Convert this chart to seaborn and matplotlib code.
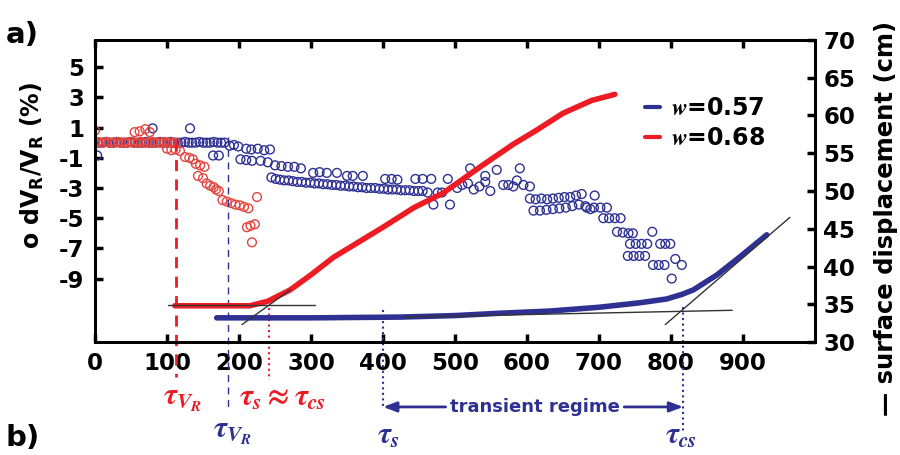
import matplotlib
matplotlib.use("Agg")
import matplotlib.pyplot as plt
from matplotlib.lines import Line2D
import seaborn as sns
import pandas as pd

# ---------------- data ----------------
# velocity change dV_R/V_R (%) versus time, w = 0.57
dvv_057_t = [0, 5, 10, 15, 20, 25, 30, 35, 40, 45, 50, 55, 60, 65, 70, 75, 80, 85, 90,
             95, 100, 105, 110, 115, 120, 125, 130, 135, 140, 145, 150, 155, 160, 165,
             170, 175, 180,
             3, 80, 132, 164, 172,
             187, 193, 199, 210, 217, 226, 235, 243,
             202, 210, 218, 230, 240, 250, 259, 268, 277, 286,
             245, 251, 257, 263, 269, 275, 281, 287, 293, 299, 305, 311, 317, 323, 329,
             335, 341, 347, 353, 359, 365, 371, 377, 383, 389, 395, 401, 407, 413, 419,
             425, 431, 437, 443, 449, 455,
             303, 312, 322, 336, 350, 358, 372, 403, 412, 420, 445, 455, 467, 490,
             470, 493, 482, 462, 476,
             503, 510, 518, 526, 534, 542, 549, 521, 542, 558, 590, 567, 574, 581, 595,
             604, 586,
             604, 612, 620, 628, 636, 644, 652, 660, 668, 676,
             609, 618, 627, 636, 645, 654, 663, 672, 681, 688,
             694, 683, 693, 702, 711, 706, 714, 722, 730, 725, 733, 741, 747, 774,
             743, 751, 759, 767, 785, 792, 799, 740, 748, 756, 764, 775, 783, 791,
             806, 815, 801]
dvv_057_v = [0.05, 0.0, 0.0, 0.05, 0.0, 0.0, 0.05, 0.0, 0.0, 0.0, 0.05, 0.0, 0.0, 0.0,
             0.05, 0.0, 0.0, 0.0, 0.05, 0.0, 0.0, 0.05, 0.0, 0.0, 0.0, 0.05, 0.0, 0.0,
             0.0, 0.05, 0.0, 0.0, 0.0, 0.05, 0.0, 0.0, 0.0,
             -0.85, 0.95, 0.95, -0.85, -0.85,
             -0.2, -0.15, -0.25, -0.4, -0.45, -0.4, -0.5, -0.45,
             -1.1, -1.15, -1.2, -1.2, -1.3, -1.5, -1.55, -1.6, -1.6, -1.7,
             -2.3, -2.4, -2.45, -2.5, -2.5, -2.55, -2.6, -2.6, -2.65, -2.65, -2.7, -2.7,
             -2.75, -2.75, -2.8, -2.8, -2.85, -2.85, -2.9, -2.9, -2.95, -2.95, -3.0,
             -3.0, -3.0, -3.05, -3.05, -3.1, -3.1, -3.1, -3.15, -3.15, -3.15, -3.2,
             -3.2, -3.2,
             -2.0, -1.95, -2.0, -2.0, -2.2, -2.2, -2.2, -2.4, -2.4, -2.45, -2.4, -2.4,
             -2.4, -2.4,
             -4.1, -4.1, -3.3, -3.3, -3.3,
             -3.0, -2.8, -2.7, -3.1, -2.9, -2.6, -3.2, -1.7, -2.2, -1.8, -1.7, -2.8,
             -2.8, -2.9, -2.8, -2.9, -2.5,
             -3.7, -3.75, -3.7, -3.75, -3.7, -3.65, -3.6, -3.6, -3.5, -3.4,
             -4.5, -4.5, -4.45, -4.4, -4.35, -4.3, -4.2, -4.1, -4.2, -4.4,
             -3.5, -4.3, -4.3, -4.3, -4.3, -5.0, -5.0, -5.0, -5.0, -5.9, -5.95, -6.0,
             -6.0, -5.9,
             -6.7, -6.7, -6.7, -6.7, -6.7, -6.7, -6.7, -7.5, -7.5, -7.5, -7.5, -8.1,
             -8.1, -8.1, -7.7, -8.1, -9.0]

# velocity change dV_R/V_R (%) versus time, w = 0.68
dvv_068_t = [0, 4, 8, 12, 16, 20, 24, 28, 32, 36, 40, 44, 48, 52, 56, 60, 64, 68, 72,
             76, 80, 84, 88, 92, 96, 100, 104, 108, 112,
             0, 55, 62, 70, 76,
             100, 106, 112, 118, 125, 131, 136, 140, 146, 152, 143, 150, 155, 160, 165,
             168, 172, 177, 183, 189, 195, 201, 207, 213,
             225, 211, 222, 218, 216]
dvv_068_v = [0.0, 0.05, 0.0, 0.0, 0.05, 0.0, 0.0, 0.0, 0.05, 0.0, 0.0, 0.0, 0.05, 0.0,
             0.0, 0.0, 0.05, 0.0, 0.0, 0.0, 0.05, 0.0, 0.0, 0.0, 0.05, 0.0, 0.0, 0.0,
             0.0,
             0.8, 0.7, 0.75, 0.9, 0.7,
             -0.4, -0.5, -0.45, -0.55, -0.95, -1.0, -1.1, -1.4, -1.5, -1.6, -2.2, -2.35,
             -2.7, -2.85, -2.95, -3.1, -3.2, -3.8, -3.9, -4.0, -4.1, -4.15, -4.25, -4.35,
             -3.6, -5.6, -5.4, -6.6, -5.5]

# surface displacement (cm) versus time
disp_057_t = [169, 300, 424, 500, 560, 632, 700, 757, 794, 815, 831, 864, 896, 933]
disp_057_d = [33.2, 33.2, 33.3, 33.5, 33.8, 34.1, 34.6, 35.2, 35.7, 36.3, 36.9, 38.9,
              41.3, 44.2]
disp_068_t = [111, 160, 215, 240, 271, 300, 331, 400, 443, 483, 535, 581, 614, 650, 690,
              722]
disp_068_d = [34.8, 34.8, 34.8, 35.4, 36.9, 38.9, 41.2, 45.2, 47.8, 49.7, 53.2, 56.2,
              58.1, 60.3, 62.0, 62.8]

# characteristic times
tau_vr_068, tau_s_068 = 112, 242
tau_vr_057, tau_s_057, tau_cs_057 = 185, 400, 817

x_ticks = [0, 100, 200, 300, 400, 500, 600, 700, 800, 900]
left_ticks = [5, 3, 1, -1, -3, -5, -7, -9]
right_ticks = [30, 35, 40, 45, 50, 55, 60, 65, 70]

NAVY = "#2e3192"
RED = "#ed1c24"
RED_PT = "#e2453f"

# ---------------- figure ----------------
sns.set_style("ticks")
plt.rcParams.update({
    "font.family": ["DejaVu Sans"],
    "font.weight": "bold",
    "text.color": "black",
    "axes.labelcolor": "black",
    "axes.edgecolor": "black",
    "xtick.color": "black",
    "ytick.color": "black",
    "xtick.labelsize": 16.5,
    "ytick.labelsize": 16.5,
})

fig = plt.figure(figsize=(9, 4.55), dpi=100)
ax = fig.add_axes([95 / 900, 1 - 342 / 455, 720 / 900, 302 / 455])

df057 = pd.DataFrame({"t": dvv_057_t, "v": dvv_057_v})
df068 = pd.DataFrame({"t": dvv_068_t, "v": dvv_068_v})
sns.scatterplot(data=df057, x="t", y="v", ax=ax, marker="o", s=40,
                facecolor="none", edgecolor=NAVY, linewidth=1.0, legend=False)
sns.scatterplot(data=df068, x="t", y="v", ax=ax, marker="o", s=40,
                facecolor="none", edgecolor=RED_PT, linewidth=1.0, legend=False)

ax2 = ax.twinx()
dd057 = pd.DataFrame({"t": disp_057_t, "d": disp_057_d})
dd068 = pd.DataFrame({"t": disp_068_t, "d": disp_068_d})
sns.lineplot(data=dd057, x="t", y="d", ax=ax2, color=NAVY, linewidth=4,
             sort=False, legend=False)
sns.lineplot(data=dd068, x="t", y="d", ax=ax2, color=RED, linewidth=4,
             sort=False, legend=False)

# tangent construction lines
tan_kw = dict(color="#333333", linewidth=1.0, zorder=5)
ax2.plot([101, 306], [34.9, 34.9], **tan_kw)
ax2.plot([204, 271], [32.3, 36.9], **tan_kw)
ax2.plot([430, 885], [33.3, 34.2], **tan_kw)
ax2.plot([792, 965], [32.3, 46.5], **tan_kw)

ax.set_xlim(0, 1000)
ax.set_ylim(-13.2, 6.8)
ax2.set_ylim(30, 70)
ax.set_xticks(x_ticks)
ax.set_xticklabels([str(t) for t in x_ticks])
ax.set_yticks(left_ticks)
ax.set_yticklabels([str(t) for t in left_ticks])
ax2.set_yticks(right_ticks)
ax2.set_yticklabels([str(t) for t in right_ticks])
ax.set_xlabel("")
ax.set_ylabel("")
ax2.set_xlabel("")
ax2.set_ylabel("")

# inward ticks on every side
ax.tick_params(axis="x", direction="in", top=True, length=6, width=2.5,
               color="black", pad=7)
ax.tick_params(axis="y", direction="in", length=6, width=2.5, color="black", pad=8)
ax2.tick_params(axis="y", direction="in", length=6, width=2.5, color="black", pad=6)
for lab in ax.get_xticklabels() + ax.get_yticklabels() + ax2.get_yticklabels():
    lab.set_fontweight("bold")
for a in (ax, ax2):
    for sp in a.spines.values():
        sp.set_linewidth(2)
        sp.set_color("black")

# vertical markers of the characteristic times
bt = ax.get_xaxis_transform()
ax.plot([tau_vr_068] * 2, [0.669, -0.116], transform=bt, clip_on=False,
        color=RED, linewidth=2, dashes=(4, 3))
ax.plot([tau_vr_057] * 2, [0.679, -0.225], transform=bt, clip_on=False,
        color=NAVY, linewidth=1, dashes=(5, 4))
ax.plot([tau_s_068] * 2, [0.113, -0.126], transform=bt, clip_on=False,
        color=RED, linewidth=1.5, linestyle=":")
ax.plot([tau_s_057] * 2, [0.106, -0.219], transform=bt, clip_on=False,
        color=NAVY, linewidth=1.5, linestyle=":")
ax.plot([tau_cs_057] * 2, [0.116, -0.30], transform=bt, clip_on=False,
        color=NAVY, linewidth=1.5, linestyle=":")

# transient regime arrows
arr = dict(arrowstyle="-|>,head_length=0.8,head_width=0.3", color=NAVY, lw=2,
           shrinkA=0, shrinkB=0)
ax.annotate("", xy=(tau_s_057, -0.215), xytext=(487, -0.215), xycoords=bt,
            textcoords=bt, arrowprops=arr, annotation_clip=False)
ax.annotate("", xy=(tau_cs_057, -0.215), xytext=(735, -0.215), xycoords=bt,
            textcoords=bt, arrowprops=arr, annotation_clip=False)
ax.text(611, -0.215, "transient regime", transform=bt, ha="center", va="center",
        color=NAVY, fontsize=13, fontweight="bold")

# time symbols
tau_kw = dict(math_fontfamily="stix", fontsize=22, ha="center", va="center")
fig.text(183 / 900, 1 - 400 / 455, r"$\boldsymbol{\tau}_{\boldsymbol{V}_{\boldsymbol{R}}}$",
         color=RED, **tau_kw)
fig.text(233 / 900, 1 - 433 / 455, r"$\boldsymbol{\tau}_{\boldsymbol{V}_{\boldsymbol{R}}}$",
         color=NAVY, **tau_kw)
fig.text(282 / 900, 1 - 398 / 455,
         r"$\boldsymbol{\tau}_{\boldsymbol{s}}{\approx}\boldsymbol{\tau}_{\boldsymbol{cs}}$",
         color=RED, **tau_kw)
fig.text(388 / 900, 1 - 435 / 455, r"$\boldsymbol{\tau}_{\boldsymbol{s}}$",
         color=NAVY, **tau_kw)
fig.text(681 / 900, 1 - 435 / 455, r"$\boldsymbol{\tau}_{\boldsymbol{cs}}$",
         color=NAVY, **tau_kw)

# legend
handles = [Line2D([], [], color=NAVY, linewidth=3),
           Line2D([], [], color=RED, linewidth=3)]
leg = ax2.legend(handles, [r"$\mathit{w}$=0.57", r"$\mathit{w}$=0.68"],
                 loc="upper left", bbox_to_anchor=(0.735, 0.885), frameon=False,
                 handlelength=0.6, handletextpad=0.5, labelspacing=0.25,
                 prop=dict(size=17, weight="bold", math_fontfamily="stix"))

# axis titles and panel letters
fig.text(32 / 900, 1 - 165 / 455, "o dV$_\\mathbf{R}$/V$_\\mathbf{R}$ (%)",
         rotation=90, ha="center", va="center", fontsize=17, fontweight="bold")
fig.text(886 / 900, 1 - 218 / 455, "— surface displacement (cm)",
         rotation=90, ha="center", va="center", fontsize=17.5, fontweight="bold")
fig.text(6 / 900, 1 - 35 / 455, "a)", fontsize=21, fontweight="bold",
         ha="left", va="center")
fig.text(6 / 900, 1 - 438 / 455, "b)", fontsize=21, fontweight="bold",
         ha="left", va="center")

fig.savefig("out.png", dpi=100)
